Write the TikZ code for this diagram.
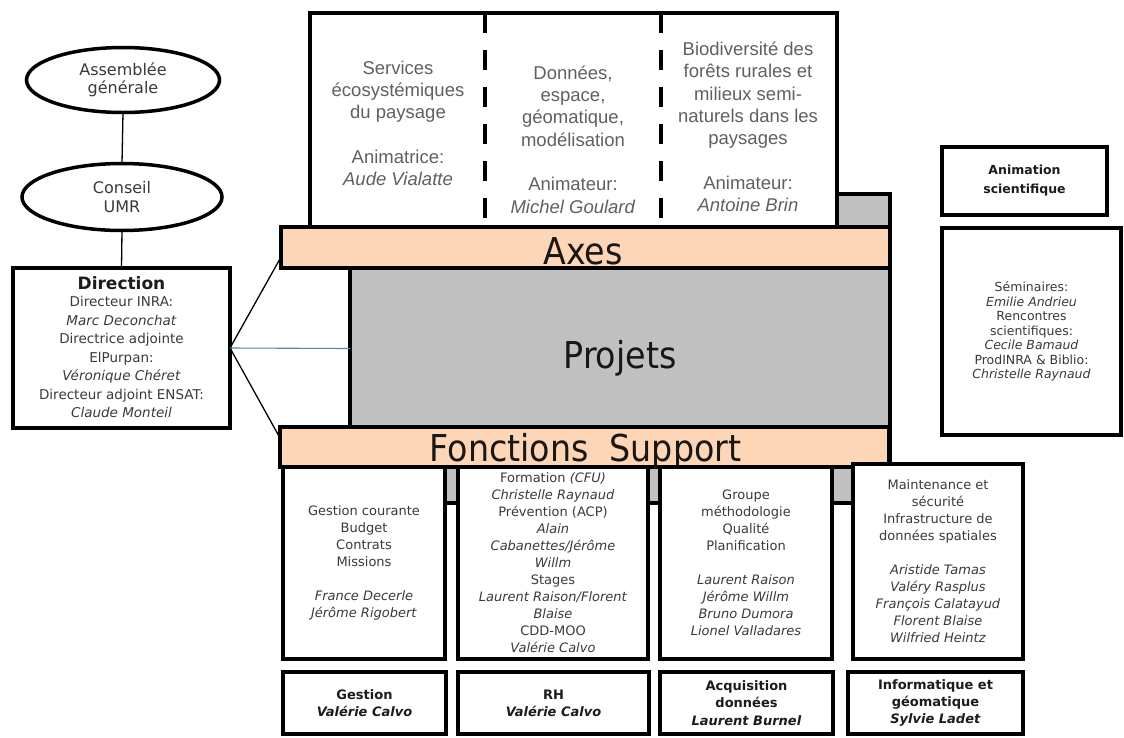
\documentclass[tikz,border=0pt]{standalone}
\usepackage{fontspec}
\usetikzlibrary{shapes.geometric}
\newfontfamily\libs{Liberation Sans}
\newfontfamily\dvs{DejaVu Sans}
\newfontfamily\dvc[FakeStretch=0.9]{DejaVu Sans}
\definecolor{peach}{RGB}{252,214,182}
\definecolor{grayfill}{RGB}{192,192,192}
\definecolor{txtgray}{RGB}{96,96,96}
\definecolor{txtdark}{RGB}{58,58,58}
\definecolor{lbldark}{RGB}{28,28,28}
\definecolor{bigdark}{RGB}{25,22,20}
\definecolor{linkblue}{RGB}{95,130,185}
\begin{document}
\begin{tikzpicture}[x=1pt,y=-1pt,
  every node/.style={inner sep=0pt, outer sep=0pt},
  frame/.style={draw=black, line width=4.2pt, fill=white, rectangle},
  thinframe/.style={draw=black, line width=3.5pt, fill=white, rectangle},
  bar/.style={draw=black, line width=3.5pt, fill=peach, rectangle},
  oval/.style={draw=black, line width=3.5pt, fill=white, ellipse, align=center, text=txtdark, font=\dvs\fontsize{16}{18.5}\selectfont},
  bigtxt/.style={font=\dvc\fontsize{37}{40}\selectfont, text=bigdark},
  toptxt/.style={align=center, text=txtgray, font=\libs\fontsize{18.5}{22.3}\selectfont},
  bottxt/.style={align=center, text=txtdark, font=\dvs\fontsize{13}{17}\selectfont},
  lbltxt/.style={align=center, text=lbldark, font=\dvs\bfseries\fontsize{13}{17.3}\selectfont},
  smalltxt/.style={align=center, text=txtdark, font=\dvs\fontsize{12.5}{14.5}\selectfont},
  dirtxt/.style={align=center, text=txtdark, font=\dvs\fontsize{13.5}{18.5}\selectfont},
  divider/.style={line width=4.5pt, dash pattern=on 20pt off 17pt},
  link/.style={draw=black, line width=1.3pt},
]
\useasboundingbox[fill=white] (0,0) rectangle (1124,737);

% gray projects box
\node[draw=black, line width=4pt, fill=grayfill, minimum width=540pt, minimum height=309pt] (proj) at (620,348.5) {};

% top axes box
\node[thinframe, minimum width=527pt, minimum height=214pt] (topbox) at (573.5,120) {};
\coordinate (d1t) at (485,13);
\coordinate (d1b) at (485,227);
\coordinate (d2t) at (661,13);
\coordinate (d2b) at (661,227);
\draw[divider] (d1t) -- (d1b);
\draw[divider] (d2t) -- (d2b);

\node[toptxt] (ax1) at (398,123.5) {Services\\écosystémiques\\du paysage\\[22.3pt]Animatrice:\\\textit{Aude Vialatte}};
\node[toptxt] (ax2) at (573,139.5) {Données,\\espace,\\géomatique,\\modélisation\\[22.3pt]Animateur:\\\textit{Michel Goulard}};
\node[toptxt] (ax3) at (748,127) {Biodiversité des\\forêts rurales et\\milieux semi-\\naturels dans les\\paysages\\[22.3pt]Animateur:\\\textit{Antoine Brin}};

% bars
\node[bar, minimum width=609pt, minimum height=41pt] (axes) at (585.5,247.5) {};
\node[bigtxt, anchor=base] (axestxt) at (583,264) {Axes};
\node[bar, minimum width=609pt, minimum height=40pt] (fs) at (584.5,447) {};
\node[bigtxt, anchor=base] (fstxt) at (585.5,461) {Fonctions\ \ Support};
\node[bigtxt, anchor=base] (projtxt) at (620,368) {Projets};

% left column
\node[oval, minimum width=193pt, minimum height=65pt] (ag) at (123,80) {Assemblée\\générale};
\node[oval, minimum width=200pt, minimum height=67pt] (cu) at (122,197) {Conseil\\UMR};
\node[frame, minimum width=217pt, minimum height=160pt] (dir) at (121.5,348) {};
\node[anchor=base, text=lbldark, font=\dvs\bfseries\fontsize{17}{18}\selectfont] (dirtitle) at (121.5,289) {Direction};
\node[dirtxt] (dirbody) at (121.5,357) {Directeur INRA:\\\textit{Marc Deconchat}\\Directrice adjointe\\ElPurpan:\\\textit{Véronique Chéret}\\Directeur adjoint ENSAT:\\\textit{Claude Monteil}};
\draw[link] (ag.south) -- (cu.north);
\draw[link] (cu.south) -- (dir.north);

\coordinate (axL) at (281,257);
\coordinate (fsL) at (280,438);
\draw[link] (dir.east) -- (axL);
\draw[link] (dir.east) -- (fsL);
\draw[draw=linkblue, line width=1.1pt] (dir.east) -- (proj.west);

% right column
\node[frame, lbltxt, font=\dvs\bfseries\fontsize{12.5}{19}\selectfont, minimum width=165pt, minimum height=68pt] (anim) at (1024.5,181) {Animation\\scientifique};
\node[frame, smalltxt, minimum width=179pt, minimum height=207pt] (sem) at (1031.5,331.5) {Séminaires:\\\textit{Emilie Andrieu}\\Rencontres\\scientifiques:\\\textit{Cecile Bamaud}\\ProdINRA \& Biblio:\\\textit{Christelle Raynaud}};

% bottom support boxes
\node[frame, bottxt, minimum width=162pt, minimum height=192pt] (b1) at (364,563) {Gestion courante\\Budget\\Contrats\\Missions\\[17pt]\textit{France Decerle}\\\textit{Jérôme Rigobert}};
\node[frame, bottxt, minimum width=190pt, minimum height=192pt] (b2) at (553,563) {Formation \textit{(CFU)}\\\textit{Christelle Raynaud}\\Prévention (ACP)\\\textit{Alain}\\\textit{Cabanettes/Jérôme}\\\textit{Willm}\\Stages\\\textit{Laurent Raison/Florent}\\\textit{Blaise}\\CDD-MOO\\\textit{Valérie Calvo}};
\node[frame, bottxt, minimum width=172pt, minimum height=192pt] (b3) at (746,563) {Groupe\\méthodologie\\Qualité\\Planification\\[17pt]\textit{Laurent Raison}\\\textit{Jérôme Willm}\\\textit{Bruno Dumora}\\\textit{Lionel Valladares}};
\node[frame, bottxt, minimum width=170pt, minimum height=195pt] (b4) at (938,561.5) {Maintenance et\\sécurité\\Infrastructure de\\données spatiales\\[17pt]\textit{Aristide Tamas}\\\textit{Valéry Rasplus}\\\textit{François Calatayud}\\\textit{Florent Blaise}\\\textit{Wilfried Heintz}};

% bottom label boxes
\node[frame, lbltxt, minimum width=163pt, minimum height=62pt] (l1) at (364.5,703) {Gestion\\\textit{Valérie Calvo}};
\node[frame, lbltxt, minimum width=191pt, minimum height=62pt] (l2) at (553.5,703) {RH\\\textit{Valérie Calvo}};
\node[frame, lbltxt, minimum width=173pt, minimum height=62pt] (l3) at (746.5,703) {Acquisition\\données\\\textit{Laurent Burnel}};
\node[frame, lbltxt, minimum width=175pt, minimum height=62pt] (l4) at (935.5,703) {Informatique et\\géomatique\\\textit{Sylvie Ladet}};
\end{tikzpicture}
\end{document}
